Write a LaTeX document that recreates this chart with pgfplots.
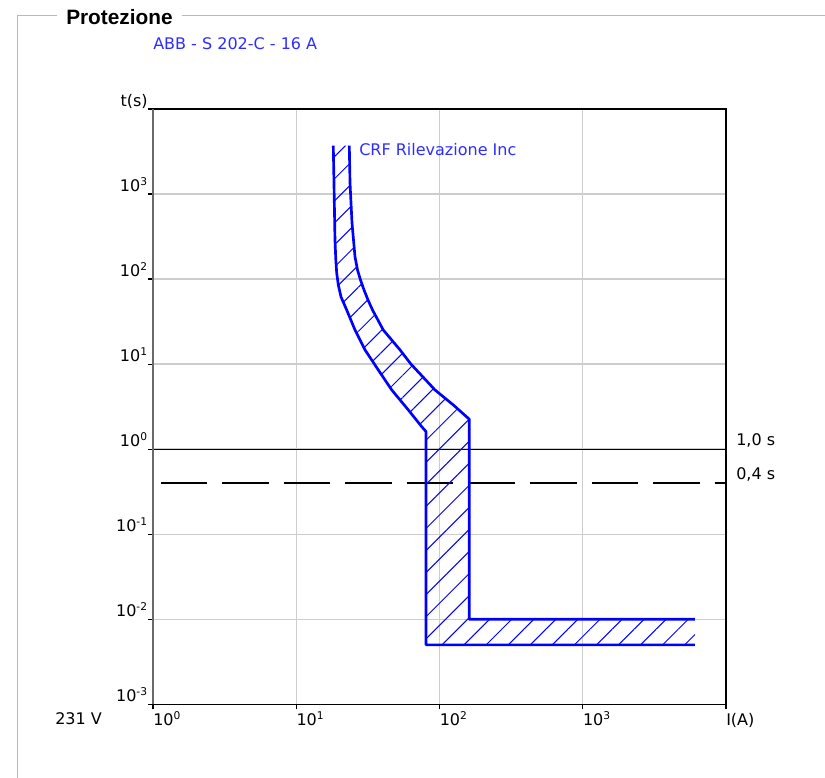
\documentclass[border=0pt]{standalone}
\usepackage{fontspec}
\setmainfont{DejaVu Sans}
\newfontfamily\arialfont{Liberation Sans}
\usepackage{pgfplots}
\pgfplotsset{compat=1.18}
\usetikzlibrary{patterns.meta}
\definecolor{gridgray}{RGB}{205,205,205}
\definecolor{framegray}{RGB}{185,185,185}
\definecolor{axisgray}{RGB}{105,105,105}
\definecolor{txtblue}{RGB}{45,45,255}
\begin{document}
\begin{tikzpicture}[x=0.75pt,y=0.75pt]
\useasboundingbox (0,0) rectangle (825,778);
% frame
\draw[framegray, line width=0.75pt] (57,762) -- (17,762) -- (17,-2);
\draw[framegray, line width=0.75pt] (182,762) -- (827,762);
\node[anchor=base west, inner sep=0] at (66,753.5) {\arialfont\bfseries\fontsize{15.6}{18}\selectfont Protezione};
\node[anchor=base west, inner sep=0, text=txtblue] at (153,728.7) {\fontsize{12}{14}\selectfont ABB - S 202-C - 16 A};
\begin{axis}[
  at={(114.75pt,55.275pt)}, anchor=south west,
  scale only axis, width=429.75pt, height=446.5pt,
  xmode=log, ymode=log,
  xmin=1, xmax=1e4, ymin=1e-3, ymax=1e4,
  clip=false,
  axis line style={draw=none},
  xtick={1,10,100,1000,10000},
  xticklabels={10\textsuperscript{0},10\textsuperscript{1},10\textsuperscript{2},10\textsuperscript{3},I(A)},
  ytick={1e-3,1e-2,1e-1,1,10,100,1000,10000},
  yticklabels={10\textsuperscript{-3},10\textsuperscript{-2},10\textsuperscript{-1},10\textsuperscript{0},10\textsuperscript{1},10\textsuperscript{2},10\textsuperscript{3},t(s)},
  xminorticks=false, yminorticks=false,
  xtick pos=left, ytick pos=left,
  tick align=outside,
  major tick length=3.75pt,
  tick style={black, line width=0.9pt},
  grid=major,
  major grid style={gridgray, line width=1pt},
  ticklabel style={font=\fontsize{12}{14}\selectfont},
  xticklabel style={anchor=base west, inner sep=0pt, yshift=-12pt, xshift=0pt},
  yticklabel style={anchor=base east, inner sep=0pt, yshift=2pt, xshift=0pt},
]
% reference lines
\addplot[black, line width=0.9pt] coordinates {(1,1) (10000,1)};
\addplot[black, line width=0.9pt, dash pattern=on 34.9pt off 11.25pt, dash phase=40.3pt] coordinates {(1,0.4) (10000,0.4)};
% hatched band
\addplot[draw=none, pattern={Lines[angle=45,distance=11.7pt,line width=0.75pt]}, pattern color=blue] coordinates {
(18.14,3700) (18.34,1349) (18.64,288) (18.89,168) (19.16,118) (19.66,85.3) (20.54,61.6) (22.50,43.3)
(25.71,25.2) (30.2,14.7) (37.4,8.53) (46.4,4.97) (60.6,2.89) (75.1,1.84) (80.5,1.61)
(80.5,0.005) (6075,0.005) (6075,0.01) (161.4,0.01) (161.4,2.25)
(124.8,3.31) (93,4.97) (63.2,10) (53,14.7) (40.5,25.2) (34.07,43.3) (31.69,56.8)
(29.72,74.5) (28.09,97.6) (26.77,128) (25.71,183) (24.5,457) (23.73,1349) (23.46,3700)
} --cycle;
% left (minimum) curve
\addplot[blue, line width=2pt, line join=round] coordinates {
(18.14,3700) (18.34,1349) (18.64,288) (18.89,168) (19.16,118) (19.66,85.3) (20.54,61.6) (22.50,43.3)
(25.71,25.2) (30.2,14.7) (37.4,8.53) (46.4,4.97) (60.6,2.89) (75.1,1.84) (80.5,1.61)
(80.5,0.005) (6075,0.005)};
% right (maximum) curve
\addplot[blue, line width=2pt, line join=round] coordinates {
(23.46,3700) (23.73,1349) (24.5,457) (25.71,183) (26.77,128) (28.09,97.6) (29.72,74.5)
(31.69,56.8) (34.07,43.3) (40.5,25.2) (53,14.7) (63.2,10) (93,4.97) (124.8,3.31) (161.4,2.25)
(161.4,0.01) (6075,0.01)};
% borders
\draw[black, line width=1pt] (rel axis cs:0,1) -- (rel axis cs:1,1) -- (rel axis cs:1,0) -- (rel axis cs:0,0);
\draw[axisgray, line width=1.5pt] (rel axis cs:0,0) -- (rel axis cs:0,1);
\end{axis}
\node[anchor=base west, inner sep=0] at (55,53) {\fontsize{12}{14}\selectfont 231 V};
\node[anchor=base west, inner sep=0, text=txtblue] at (359,622) {\fontsize{12}{14}\selectfont CRF Rilevazione Inc};
\node[anchor=base west, inner sep=0] at (736,332) {\fontsize{12}{14}\selectfont 1,0 s};
\node[anchor=base west, inner sep=0] at (736,298) {\fontsize{12}{14}\selectfont 0,4 s};
\end{tikzpicture}
\end{document}
